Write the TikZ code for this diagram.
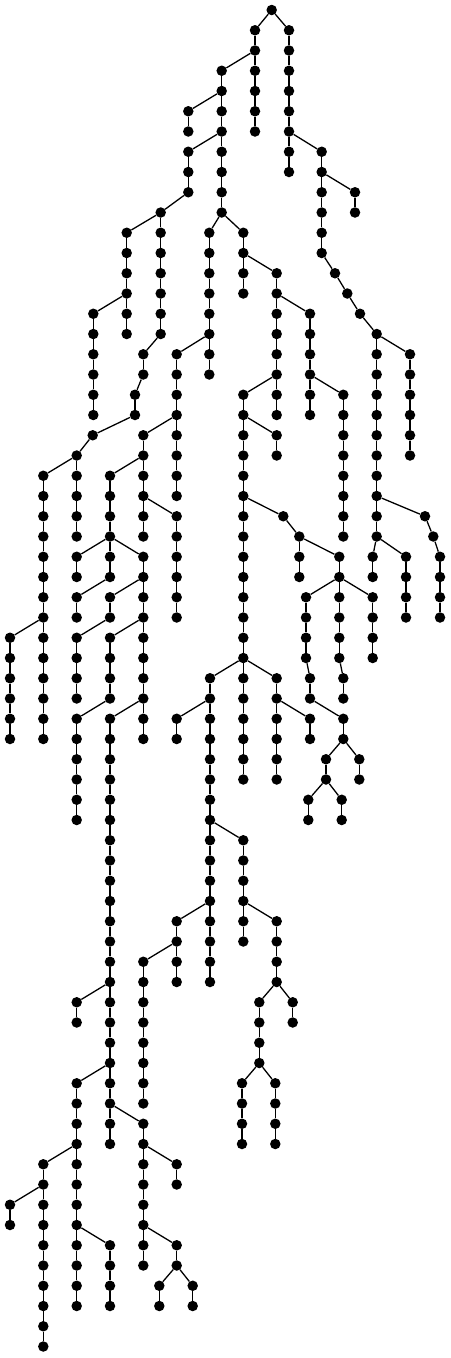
\documentclass[tikz,border=0pt]{standalone}

\tikzstyle{treeNode}=[circle,fill=black,minimum size=10.5pt,inner sep=0pt]
\tikzstyle{treeEdge}=[line width=1.3pt]

% one vertical run of nodes: name, x, first row, last row
\newcommand{\treeChain}[4]{%
  \foreach \r [remember=\r as \q (initially #3)] in {#3,...,#4}{%
    \node[treeNode] (#1-\r) at (#2,\r) {};
    \ifnum\r>#3\relax \draw[treeEdge] (#1-\q) -- (#1-\r);\fi
  }%
}

\begin{document}
\begin{tikzpicture}[x=1pt,y=-20.25pt]
		\useasboundingbox (0,-0.494) rectangle (450,66.568);
		
		\treeChain{r}{271.7}{0}{0}
		\treeChain{a}{255}{1}{6}
		\treeChain{b}{289}{1}{8}
		\treeChain{c}{321.7}{7}{12}
		\treeChain{d}{355}{9}{10}
		\treeChain{e}{335}{13}{13}
		\treeChain{f}{347.3}{14}{14}
		\treeChain{g}{360}{15}{15}
		\treeChain{h}{376.7}{16}{26}
		\treeChain{i}{410}{17}{22}
		\treeChain{j}{425}{25}{25}
		\treeChain{k}{433.3}{26}{26}
		\treeChain{l}{440}{27}{30}
		\treeChain{m}{372.7}{27}{28}
		\treeChain{n}{406}{27}{30}
		
		\draw[treeEdge] (r-0) -- (a-1);
		\draw[treeEdge] (r-0) -- (b-1);
		\draw[treeEdge] (b-6) -- (c-7);
		\draw[treeEdge] (c-8) -- (d-9);
		\draw[treeEdge] (c-12) -- (e-13);
		\draw[treeEdge] (e-13) -- (f-14);
		\draw[treeEdge] (f-14) -- (g-15);
		\draw[treeEdge] (g-15) -- (h-16);
		\draw[treeEdge] (h-16) -- (i-17);
		\draw[treeEdge] (h-24) -- (j-25);
		\draw[treeEdge] (j-25) -- (k-26);
		\draw[treeEdge] (k-26) -- (l-27);
		\draw[treeEdge] (h-26) -- (m-27);
		\draw[treeEdge] (h-26) -- (n-27);
		
		\treeChain{p}{221.7}{3}{10}
		\treeChain{q}{188.3}{5}{6}
		\treeChain{s}{188.3}{7}{9}
		\treeChain{t}{160.7}{10}{16}
		\treeChain{u}{126.7}{11}{16}
		\treeChain{v}{93.3}{15}{20}
		\treeChain{w}{143.3}{17}{18}
		\treeChain{x}{135}{19}{20}
		\treeChain{y}{92.7}{21}{21}
		\treeChain{z}{76.7}{22}{26}
		\treeChain{aa}{43.3}{23}{36}
		\treeChain{ab}{10}{31}{36}
		
		\draw[treeEdge] (a-2) -- (p-3);
		\draw[treeEdge] (p-4) -- (q-5);
		\draw[treeEdge] (p-6) -- (s-7);
		\draw[treeEdge] (s-9) -- (t-10);
		\draw[treeEdge] (t-10) -- (u-11);
		\draw[treeEdge] (u-14) -- (v-15);
		\draw[treeEdge] (t-16) -- (w-17);
		\draw[treeEdge] (w-18) -- (x-19);
		\draw[treeEdge] (x-20) -- (y-21);
		\draw[treeEdge] (y-21) -- (z-22);
		\draw[treeEdge] (z-22) -- (aa-23);
		\draw[treeEdge] (aa-30) -- (ab-31);
		
		\treeChain{ac}{209.3}{11}{18}
		\treeChain{ad}{176.7}{17}{24}
		\treeChain{ae}{143.3}{21}{26}
		\treeChain{af}{176.7}{25}{30}
		\treeChain{ag}{110}{23}{28}
		\treeChain{ah}{76.7}{27}{28}
		\treeChain{ai}{76.7}{29}{30}
		\treeChain{aj}{143.3}{27}{36}
		\treeChain{ak}{110}{29}{30}
		\treeChain{al}{76.7}{31}{34}
		\treeChain{am}{110}{31}{34}
		\treeChain{an}{76.7}{35}{40}
		\treeChain{ao}{110}{35}{56}
		\treeChain{ap}{76.7}{49}{50}
		\treeChain{aq}{76.7}{53}{64}
		\treeChain{ar}{43.3}{57}{66}
		\treeChain{as}{10}{59}{60}
		\treeChain{at}{110}{61}{64}
		\treeChain{au}{143.3}{55}{62}
		\treeChain{av}{176.7}{57}{58}
		\treeChain{aw}{176.7}{61}{62}
		\treeChain{ax}{159.3}{63}{64}
		\treeChain{ay}{192.7}{63}{64}
		
		\draw[treeEdge] (p-10) -- (ac-11);
		\draw[treeEdge] (ac-16) -- (ad-17);
		\draw[treeEdge] (ad-20) -- (ae-21);
		\draw[treeEdge] (ae-24) -- (af-25);
		\draw[treeEdge] (ae-22) -- (ag-23);
		\draw[treeEdge] (ag-26) -- (ah-27);
		\draw[treeEdge] (ag-28) -- (ai-29);
		\draw[treeEdge] (ag-26) -- (aj-27);
		\draw[treeEdge] (aj-28) -- (ak-29);
		\draw[treeEdge] (ak-30) -- (al-31);
		\draw[treeEdge] (aj-30) -- (am-31);
		\draw[treeEdge] (am-34) -- (an-35);
		\draw[treeEdge] (aj-34) -- (ao-35);
		\draw[treeEdge] (ao-48) -- (ap-49);
		\draw[treeEdge] (ao-52) -- (aq-53);
		\draw[treeEdge] (aq-56) -- (ar-57);
		\draw[treeEdge] (ar-58) -- (as-59);
		\draw[treeEdge] (aq-60) -- (at-61);
		\draw[treeEdge] (ao-54) -- (au-55);
		\draw[treeEdge] (au-56) -- (av-57);
		\draw[treeEdge] (au-60) -- (aw-61);
		\draw[treeEdge] (aw-62) -- (ax-63);
		\draw[treeEdge] (aw-62) -- (ay-63);
		
		\treeChain{ba}{243.3}{11}{14}
		\treeChain{bb}{276.7}{13}{20}
		\treeChain{bc}{310}{15}{20}
		\treeChain{bd}{343.3}{19}{26}
		\treeChain{be}{243.3}{19}{38}
		\treeChain{bf}{276.7}{21}{22}
		\treeChain{bg}{283.3}{25}{25}
		\treeChain{bh}{299.3}{26}{28}
		\treeChain{bi}{339.3}{27}{32}
		\treeChain{bj}{343.3}{33}{34}
		\treeChain{bk}{306}{29}{32}
		\treeChain{bl}{310}{33}{34}
		\treeChain{bm}{343.3}{35}{36}
		\treeChain{bn}{326}{37}{38}
		\treeChain{bo}{359.3}{37}{38}
		\treeChain{bp}{308.3}{39}{40}
		\treeChain{bq}{341.7}{39}{40}
		\treeChain{br}{372.7}{29}{32}
		\treeChain{bs}{276.7}{33}{38}
		\treeChain{bt}{310}{35}{36}
		\treeChain{bu}{210}{33}{48}
		\treeChain{bv}{176.7}{35}{36}
		\treeChain{bw}{243.3}{41}{46}
		\treeChain{bx}{276.7}{45}{48}
		\treeChain{by}{259.3}{49}{52}
		\treeChain{bz}{292.7}{49}{50}
		\treeChain{ca}{242}{53}{56}
		\treeChain{cb}{275.3}{53}{56}
		\treeChain{cc}{176.7}{45}{48}
		\treeChain{cd}{143.3}{47}{54}
		
		\draw[treeEdge] (p-10) -- (ba-11);
		\draw[treeEdge] (ba-12) -- (bb-13);
		\draw[treeEdge] (bb-14) -- (bc-15);
		\draw[treeEdge] (bc-18) -- (bd-19);
		\draw[treeEdge] (bb-18) -- (be-19);
		\draw[treeEdge] (be-20) -- (bf-21);
		\draw[treeEdge] (be-24) -- (bg-25);
		\draw[treeEdge] (bg-25) -- (bh-26);
		\draw[treeEdge] (bh-26) -- (bi-27);
		\draw[treeEdge] (bi-32) -- (bj-33);
		\draw[treeEdge] (bi-28) -- (bk-29);
		\draw[treeEdge] (bk-32) -- (bl-33);
		\draw[treeEdge] (bl-34) -- (bm-35);
		\draw[treeEdge] (bm-36) -- (bn-37);
		\draw[treeEdge] (bm-36) -- (bo-37);
		\draw[treeEdge] (bn-38) -- (bp-39);
		\draw[treeEdge] (bn-38) -- (bq-39);
		\draw[treeEdge] (bi-28) -- (br-29);
		\draw[treeEdge] (be-32) -- (bs-33);
		\draw[treeEdge] (bs-34) -- (bt-35);
		\draw[treeEdge] (be-32) -- (bu-33);
		\draw[treeEdge] (bu-34) -- (bv-35);
		\draw[treeEdge] (bu-40) -- (bw-41);
		\draw[treeEdge] (bw-44) -- (bx-45);
		\draw[treeEdge] (bx-48) -- (by-49);
		\draw[treeEdge] (bx-48) -- (bz-49);
		\draw[treeEdge] (by-52) -- (ca-53);
		\draw[treeEdge] (by-52) -- (cb-53);
		\draw[treeEdge] (bu-44) -- (cc-45);
		\draw[treeEdge] (cc-46) -- (cd-47);
\end{tikzpicture}
\end{document}
